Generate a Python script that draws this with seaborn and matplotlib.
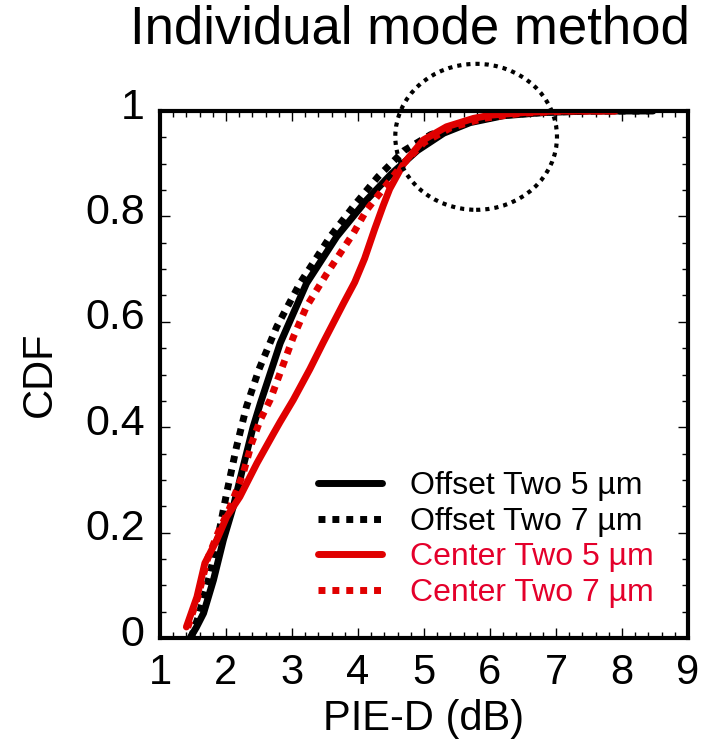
import numpy as np
import pandas as pd
import seaborn as sns
import matplotlib
matplotlib.use("Agg")
import matplotlib.pyplot as plt
from matplotlib.patches import Ellipse
from matplotlib.lines import Line2D
from matplotlib.ticker import MultipleLocator
from matplotlib.transforms import ScaledTranslation

# ---- data ----
offset5_x = [1.455, 1.55, 1.66, 1.81, 1.96, 2.11, 2.26, 2.41, 2.52, 2.82, 3.22, 3.68, 4.13, 4.50, 4.90, 5.30, 5.70, 6.20, 6.80, 7.50, 8.47]
offset5_y = [0.000, 0.020, 0.047, 0.110, 0.186, 0.249, 0.325, 0.400, 0.445, 0.559, 0.673, 0.762, 0.831, 0.880, 0.925, 0.958, 0.978, 0.991, 0.997, 1.000, 1.000]

offset7_x = [1.47, 1.58, 1.76, 1.91, 2.01, 2.16, 2.31, 2.50, 2.77, 3.12, 3.58, 3.93, 4.30, 4.70, 5.10, 5.60, 6.20, 6.90, 7.60, 8.40]
offset7_y = [0.000, 0.040, 0.123, 0.211, 0.275, 0.363, 0.439, 0.510, 0.591, 0.673, 0.762, 0.819, 0.875, 0.925, 0.955, 0.978, 0.992, 0.998, 1.000, 1.000]

center5_x = [1.40, 1.56, 1.68, 1.86, 2.01, 2.21, 2.47, 2.72, 2.82, 3.02, 3.27, 3.47, 3.78, 3.95, 4.10, 4.25, 4.38, 4.48, 4.69, 4.99, 5.34, 5.75, 6.00, 6.50, 7.00, 7.90]
center5_y = [0.021, 0.078, 0.142, 0.186, 0.230, 0.268, 0.332, 0.388, 0.410, 0.452, 0.510, 0.560, 0.635, 0.675, 0.720, 0.775, 0.820, 0.852, 0.900, 0.945, 0.970, 0.986, 0.992, 0.997, 1.000, 1.000]

center7_x = [1.42, 1.58, 1.72, 1.88, 2.05, 2.26, 2.39, 2.52, 2.67, 2.82, 3.02, 3.22, 3.53, 3.73, 3.93, 4.13, 4.40, 4.65, 5.00, 5.40, 5.90, 6.50, 7.20, 7.90]
center7_y = [0.020, 0.080, 0.150, 0.200, 0.245, 0.312, 0.370, 0.414, 0.452, 0.503, 0.571, 0.629, 0.692, 0.730, 0.768, 0.812, 0.855, 0.895, 0.940, 0.968, 0.986, 0.996, 1.000, 1.000]

series_names = ["Offset Two 5 µm", "Offset Two 7 µm", "Center Two 5 µm", "Center Two 7 µm"]
x_ticks = [1, 2, 3, 4, 5, 6, 7, 8, 9]
y_ticks = [0, 0.2, 0.4, 0.6, 0.8, 1]
y_tick_labels = ["0", "0.2", "0.4", "0.6", "0.8", "1"]

# ---- build table ----
frames = []
for name, xs, ys in zip(series_names,
                        [offset5_x, offset7_x, center5_x, center7_x],
                        [offset5_y, offset7_y, center5_y, center7_y]):
    frames.append(pd.DataFrame({"x": xs, "y": ys, "series": name}))
df = pd.concat(frames, ignore_index=True)

sns.set_theme(style="white")
plt.rcParams["font.family"] = ["Liberation Sans", "DejaVu Sans"]
plt.rcParams["text.color"] = "black"
plt.rcParams["axes.labelcolor"] = "black"
plt.rcParams["xtick.color"] = "black"
plt.rcParams["ytick.color"] = "black"

BLACK = "#000000"
RED = "#e00000"
RED_TXT = "#e4002b"
palette = {series_names[0]: BLACK, series_names[1]: BLACK,
           series_names[2]: RED, series_names[3]: RED}
dashes = {series_names[0]: "", series_names[1]: (1, 1),
          series_names[2]: "", series_names[3]: (1, 1)}

fig = plt.figure(figsize=(7.03, 7.39), dpi=100)
ax = fig.add_axes([160/703, 1-638/739, (688-160)/703, (638-111)/739])

sns.lineplot(data=df, x="x", y="y", hue="series", style="series",
             palette=palette, dashes=dashes, sort=False, estimator=None,
             linewidth=5, ax=ax, legend=False)

ax.set_xlim(1, 9)
ax.set_ylim(0, 1)
ax.set_xticks(x_ticks)
ax.set_xticklabels([str(t) for t in x_ticks])
ax.set_yticks(y_ticks)
ax.set_yticklabels(y_tick_labels)
ax.xaxis.set_minor_locator(MultipleLocator(0.2))
ax.yaxis.set_minor_locator(MultipleLocator(0.05))
ax.tick_params(which="both", direction="in", top=True, right=True,
               bottom=True, left=True, width=1, color="black")
ax.tick_params(which="major", length=7)
ax.tick_params(which="minor", length=4)
ax.tick_params(axis="x", which="major", labelsize=30, pad=11)
ax.tick_params(axis="y", which="major", labelsize=31, pad=11)
for sp in ax.spines.values():
    sp.set_linewidth(3)
    sp.set_color("black")

shift = ScaledTranslation(0, 8/100, fig.dpi_scale_trans)
for lab in ax.get_yticklabels():
    lab.set_transform(lab.get_transform() + shift)

ax.set_xlabel("PIE-D (dB)", fontsize=30, labelpad=4)
ax.set_ylabel("CDF", fontsize=30, labelpad=18)

fig.text(410/703, 1-30/739, "Individual mode method", fontsize=38,
         ha="center", va="center", color="black")

# dotted highlight ellipse
ell = Ellipse((5.79, 0.951), 2.45, 0.277, fill=False, edgecolor="black",
              linewidth=3, linestyle=(0, (1, 1.2)), clip_on=False, zorder=5)
ax.add_patch(ell)

handles = [Line2D([], [], color=BLACK, lw=5),
           Line2D([], [], color=BLACK, lw=5, linestyle=(0, (1, 1))),
           Line2D([], [], color=RED, lw=5),
           Line2D([], [], color=RED, lw=5, linestyle=(0, (1, 1)))]
leg = ax.legend(handles, series_names, loc="upper left",
                bbox_to_anchor=(318/703, 1-471/739),
                bbox_transform=fig.transFigure, frameon=False, fontsize=23,
                handlelength=2.0, handletextpad=0.88, labelspacing=0.18,
                borderpad=0, borderaxespad=0)
for t, c in zip(leg.get_texts(), [BLACK, BLACK, RED_TXT, RED_TXT]):
    t.set_color(c)

fig.savefig("out.png", dpi=100)
